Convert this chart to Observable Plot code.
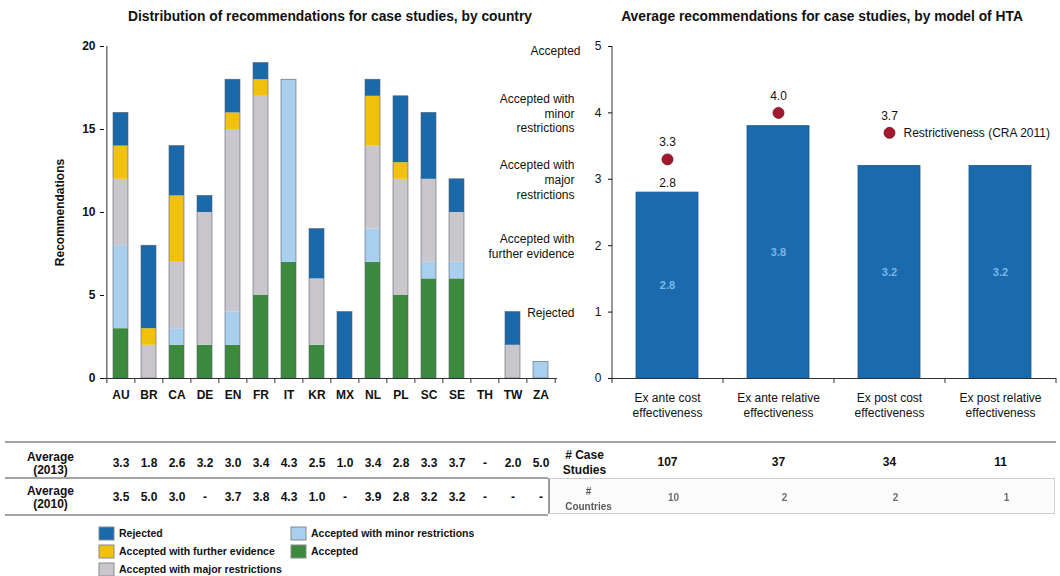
<!DOCTYPE html>
<html>
<head>
<meta charset="utf-8">
<script src="https://cdn.jsdelivr.net/npm/d3@7"></script>
<script src="https://cdn.jsdelivr.net/npm/@observablehq/plot@0.6"></script>
<style>
  body { margin: 0; background: #fff; font-family: "Liberation Sans", Arial, sans-serif; }
  #root { position: relative; width: 1060px; height: 576px; overflow: hidden; background: #fff; }
  .title { font-weight: bold; font-size: 13.8px; white-space: nowrap; transform: translateX(-50%); color: #111; }
  .hline { position: absolute; background: #a3a3a3; height: 2px; }
  #box { position: absolute; left: 548px; top: 478px; width: 507px; height: 36px; border: 1px solid #cfcfcf; border-left: 2px solid #9a9a9a; background: #fbfbfb; box-sizing: border-box; }
  #legend { position: absolute; left: 99px; top: 524px; width: 390px; }
  #legend > div { columns: 2 !important; column-gap: 0 !important; width: 384px; font-family: "Liberation Sans", Arial, sans-serif !important; font-size: 10.5px !important; font-weight: bold; color: #111; margin: 0 !important; }
  #legend > div > div { height: 18px; padding: 0 !important; display: flex; align-items: center; }
  #legend svg { margin-right: 5px !important; overflow: visible; }
  #legend svg rect { stroke: #8a8a8a; stroke-width: 1px; }
</style>
</head>
<body>
<div id="root"></div>
<script>
// ---------- data: left chart (recommendations by country) ----------
const countries = ["AU","BR","CA","DE","EN","FR","IT","KR","MX","NL","PL","SC","SE","TH","TW","ZA"];
const accepted = [3,0,2,2,2,5,7,2,0,7,5,6,6,0,0,0];
const minorRestr = [5,0,1,0,2,0,11,0,0,2,0,1,1,0,0,1];
const majorRestr = [4,2,4,8,11,12,0,4,0,5,7,5,3,0,2,0];
const furtherEvidence = [2,1,4,0,1,1,0,0,0,3,1,0,0,0,0,0];
const rejected = [2,5,3,1,2,1,0,3,4,1,4,4,2,0,2,0];
const categories = ["Accepted","Accepted with minor restrictions","Accepted with major restrictions","Accepted with further evidence","Rejected"];
const categoryColors = ["#3b8a3e","#a9cfee","#c9c7cc","#f2c10f","#1a6aab"];
const legendOrder = ["Rejected","Accepted with further evidence","Accepted with major restrictions","Accepted with minor restrictions","Accepted"];
const leftYTicks = [0,5,10,15,20];
const avg2013 = ["3.3","1.8","2.6","3.2","3.0","3.4","4.3","2.5","1.0","3.4","2.8","3.3","3.7","-","2.0","5.0"];
const avg2010 = ["3.5","5.0","3.0","-","3.7","3.8","4.3","1.0","-","3.9","2.8","3.2","3.2","-","-","-"];
const tableRowLabels = ["Average\n(2013)","Average\n(2010)"];

// ---------- data: right chart (by model of HTA) ----------
const models = ["Ex ante cost effectiveness","Ex ante relative effectiveness","Ex post cost effectiveness","Ex post relative effectiveness"];
const modelLabels = ["Ex ante cost\neffectiveness","Ex ante relative\neffectiveness","Ex post cost\neffectiveness","Ex post relative\neffectiveness"];
const avgRecommendation = [2.8, 3.8, 3.2, 3.2];
const restrictiveness = [3.3, 4.0, 3.7, null];
const restrLegend = "Restrictiveness (CRA 2011)";
const caseStudies = [107, 37, 34, 11];
const countriesPerModel = [10, 2, 2, 1];
const rightYTicks = [0,1,2,3,4,5];
const scoreLevels = [1,2,3,4,5];
const scoreNames = ["Rejected","Accepted with\nfurther evidence","Accepted with\nmajor\nrestrictions","Accepted with\nminor\nrestrictions","Accepted"];

// ---------- derived tables ----------
const series = [accepted, minorRestr, majorRestr, furtherEvidence, rejected];
const stackData = [];
categories.forEach((c, ci) => countries.forEach((k, i) => {
  const v = series[ci][i];
  if (v > 0) stackData.push({country: k, category: c, value: v});
}));
const totals = countries.map((k, i) => ({country: k, total: d3.sum(series, s => s[i])})).filter(d => d.total > 0);
const leftTable = [];
countries.forEach((k, i) => {
  leftTable.push({country: k, row: tableRowLabels[0], value: avg2013[i]});
  leftTable.push({country: k, row: tableRowLabels[1], value: avg2010[i]});
});
const rightData = models.map((m, i) => ({model: m, label: modelLabels[i], avg: avgRecommendation[i], restr: restrictiveness[i], cases: caseStudies[i], n: countriesPerModel[i]}));
const dotData = rightData.filter(d => d.restr != null);
const scoreData = scoreLevels.map((l, i) => ({level: l, name: scoreNames[i]}));

// ---------- layout ----------
const FONT = '"Liberation Sans", Arial, sans-serif';
const root = document.getElementById("root");
function place(el, left, top) { el.style.position = "absolute"; el.style.left = left + "px"; el.style.top = top + "px"; root.appendChild(el); return el; }
function div(cls, text, left, top) { const d = document.createElement("div"); d.className = cls; d.textContent = text; return place(d, left, top); }

const MT = 46, MB = 42;
const W1 = 590, H1 = 420, ML1 = 104, MR1 = 33;
const step1 = (W1 - ML1 - MR1) / countries.length;
const W2 = 580, H2 = 420, ML2 = 132, MR2 = 4, X2 = 480;
const step2 = (W2 - ML2 - MR2) / models.length;
const xLeft = {type: "band", domain: countries, paddingInner: 0.45, paddingOuter: 0.225, axis: null};
const xRight = {type: "band", domain: models, paddingInner: 0.44, paddingOuter: 0.22, axis: null};
const baseStyle = {background: "transparent", fontFamily: FONT, fontSize: "12px", color: "#111", overflow: "visible"};

// table rules
[[441, 5, 1051], [477, 5, 543], [514, 5, 543]].forEach(([t, l, w]) => {
  const d = document.createElement("div"); d.className = "hline"; d.style.width = w + "px"; place(d, l, t);
});
const box = document.createElement("div"); box.id = "box"; root.appendChild(box);

// left chart
const leftPlot = Plot.plot({
  width: W1, height: H1, marginLeft: ML1, marginRight: MR1, marginTop: MT, marginBottom: MB,
  style: {...baseStyle, fontWeight: "bold"},
  x: xLeft,
  y: {domain: [0, 20], axis: null},
  color: {domain: categories, range: categoryColors},
  marks: [
    Plot.barY(stackData, Plot.stackY({x: "country", y: "value", fill: "category"})),
    Plot.barY(totals, {x: "country", y: "total", fill: "none", stroke: "#56606e", strokeWidth: 0.6}),
    Plot.ruleY([0], {stroke: "#333"}),
    Plot.ruleX([countries[0]], {dx: -step1 / 2, stroke: "#333"}),
    Plot.ruleX(countries, {dx: -step1 / 2, insetTop: H1 - MT - MB, insetBottom: -5, stroke: "#333"}),
    Plot.ruleX([countries[countries.length - 1]], {dx: step1 / 2, insetTop: H1 - MT - MB, insetBottom: -5, stroke: "#333"}),
    Plot.axisY({ticks: leftYTicks, tickSize: 4, tickPadding: 5, label: null, fontWeight: "bold"}),
    Plot.text(countries, {x: d => d, text: d => d, frameAnchor: "bottom", dy: 20, fontWeight: "bold"}),
    Plot.text(["Recommendations"], {text: d => d, frameAnchor: "left", textAnchor: "middle", dx: -44, rotate: -90, fontWeight: "bold"})
  ]
});
place(leftPlot, 0, 0);

// right chart
const rightPlot = Plot.plot({
  width: W2, height: H2, marginLeft: ML2, marginRight: MR2, marginTop: MT, marginBottom: MB,
  style: baseStyle,
  x: xRight,
  y: {domain: [0, 5], axis: null},
  marks: [
    Plot.barY(rightData, {x: "model", y: "avg", fill: "#1b6aad", stroke: "#155a92", strokeWidth: 0.8}),
    Plot.text(rightData, {x: "model", y: d => d.avg / 2, text: d => d.avg.toFixed(1), fill: "#8cc8f2", fontWeight: "bold", fontSize: 11, fillOpacity: 0.85}),
    Plot.text(rightData.slice(0, 1), {x: "model", y: "avg", text: d => d.avg.toFixed(1), dy: -9}),
    Plot.dot(dotData, {x: "model", y: "restr", r: 5.5, fill: "#a3182e", stroke: "#6e0f1f", strokeWidth: 0.8}),
    Plot.text(dotData, {x: "model", y: "restr", text: d => d.restr.toFixed(1), dy: -17}),
    Plot.text(dotData.filter(d => d.model === models[2]), {x: "model", y: "restr", text: () => restrLegend, textAnchor: "start", dx: 14}),
    Plot.ruleY([0], {stroke: "#333"}),
    Plot.ruleX([models[0]], {dx: -step2 / 2, stroke: "#333"}),
    Plot.ruleX(models, {dx: -step2 / 2, insetTop: H2 - MT - MB, insetBottom: -5, stroke: "#333"}),
    Plot.ruleX([models[models.length - 1]], {dx: step2 / 2, insetTop: H2 - MT - MB, insetBottom: -5, stroke: "#333"}),
    Plot.axisY({ticks: rightYTicks, tickFormat: d3.format("d"), tickSize: 4, tickPadding: 7, label: null}),
    Plot.text(rightData, {x: "model", text: "label", frameAnchor: "bottom", lineAnchor: "top", dy: 13, lineHeight: 1.25}),
    Plot.text(scoreData.filter(d => d.level < 5), {y: "level", text: "name", frameAnchor: "left", textAnchor: "end", dx: -38, lineHeight: 1.22}),
    Plot.text(scoreData.filter(d => d.level === 5), {y: "level", text: "name", frameAnchor: "left", textAnchor: "end", dx: -32, dy: 5})
  ]
});
place(rightPlot, X2, 0);

// left table (averages by country)
const leftTablePlot = Plot.plot({
  width: W1, height: 72, marginLeft: ML1, marginRight: MR1, marginTop: 0, marginBottom: 0,
  style: {...baseStyle, fontWeight: "bold"},
  x: xLeft,
  y: {type: "band", domain: tableRowLabels, axis: null},
  marks: [
    Plot.text(leftTable, {x: "country", y: "row", text: "value", fontWeight: "bold"}),
    Plot.text(tableRowLabels, {y: d => d, text: d => d, frameAnchor: "left", textAnchor: "middle", dx: -54, lineHeight: 1.1, fontWeight: "bold"})
  ]
});
place(leftTablePlot, 0, 443);

// right table row 1 (# case studies)
const caseRow = ["# Case\nStudies"];
const rightTablePlot = Plot.plot({
  width: W2, height: 36, marginLeft: ML2, marginRight: MR2, marginTop: 0, marginBottom: 0,
  style: {...baseStyle, fontWeight: "bold"},
  x: xRight,
  y: {type: "band", domain: caseRow, axis: null},
  marks: [
    Plot.text(rightData, {x: "model", y: () => caseRow[0], text: d => String(d.cases), fontWeight: "bold"}),
    Plot.text(caseRow, {y: d => d, text: d => d, frameAnchor: "left", textAnchor: "middle", dx: -28, lineHeight: 1.2, fontWeight: "bold"})
  ]
});
place(rightTablePlot, X2, 443);

// right table row 2 (# countries) - faded in the reference
const countryRow = ["#\nCountries"];
const rightTablePlot2 = Plot.plot({
  width: W2, height: 36, marginLeft: ML2, marginRight: MR2, marginTop: 0, marginBottom: 0,
  style: {...baseStyle, fontWeight: "bold", fontSize: "10px", filter: "blur(0.7px)"},
  x: xRight,
  y: {type: "band", domain: countryRow, axis: null},
  marks: [
    Plot.text(rightData, {x: "model", y: () => countryRow[0], text: d => String(d.n), dx: 6, fill: "#6d6d6d", fontWeight: "bold"}),
    Plot.text(countryRow, {y: d => d, text: d => d, frameAnchor: "left", textAnchor: "middle", dx: -24, lineHeight: 1.5, fill: "#5a5a5a", fontWeight: "bold"})
  ]
});
place(rightTablePlot2, X2, 479);

// titles
div("title", "Distribution of recommendations for case studies, by country", 330, 9);
div("title", "Average recommendations for case studies, by model of HTA", 822, 9);

// legend
const legendColors = legendOrder.map(c => categoryColors[categories.indexOf(c)]);
const legend = Plot.legend({
  color: {type: "ordinal", domain: legendOrder, range: legendColors},
  legend: "swatches", columns: 2, swatchWidth: 15, swatchHeight: 13
});
const lw = document.createElement("div"); lw.id = "legend"; lw.appendChild(legend); root.appendChild(lw);
</script>
</body>
</html>
